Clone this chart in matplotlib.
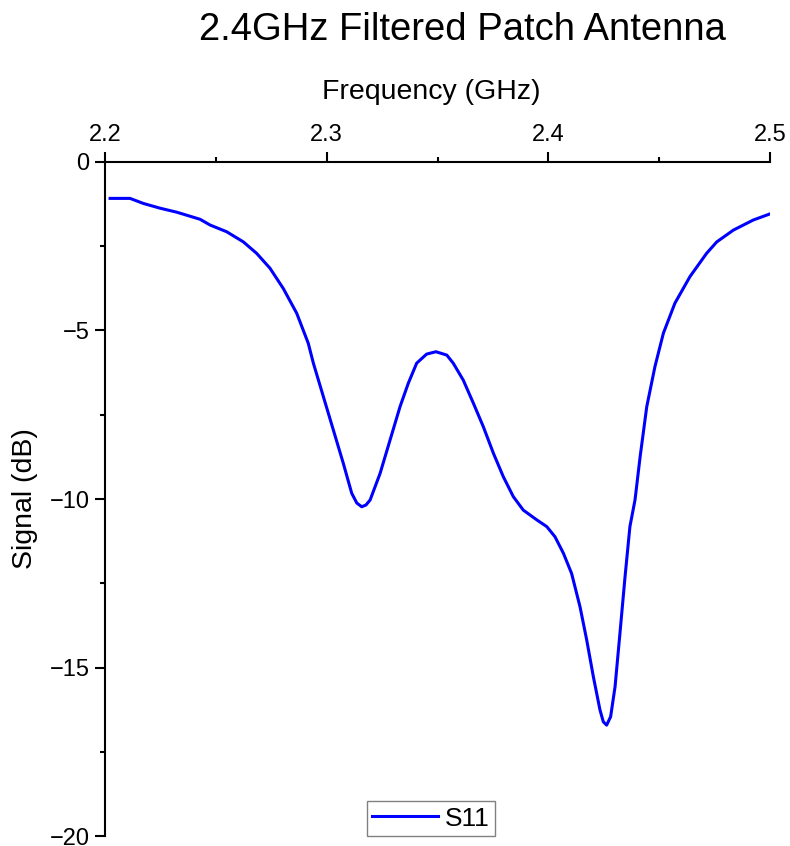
import matplotlib
matplotlib.use("Agg")
import matplotlib.pyplot as plt
from matplotlib.ticker import MultipleLocator

plt.rcParams["font.family"] = ["Liberation Sans", "DejaVu Sans"]

# S11 (GHz, dB)
freq = [2.2023, 2.2113, 2.2173, 2.2248, 2.2324, 2.2429, 2.2474, 2.2549,
        2.2624, 2.2684, 2.2744, 2.2804, 2.2865, 2.2917, 2.2940, 2.2985,
        2.3030, 2.3075, 2.3113, 2.3136, 2.3158, 2.3177, 2.3196, 2.3241,
        2.3286, 2.3331, 2.3368, 2.3406, 2.3451, 2.3493, 2.3542, 2.3571,
        2.3616, 2.3662, 2.3707, 2.3752, 2.3797, 2.3842, 2.3887, 2.3948,
        2.3993, 2.4030, 2.4068, 2.4105, 2.4143, 2.4173, 2.4203, 2.4233,
        2.4248, 2.4263, 2.4281, 2.4301, 2.4323, 2.4346, 2.4368, 2.4391,
        2.4414, 2.4444, 2.4481, 2.4519, 2.4571, 2.4639, 2.4714, 2.4760,
        2.4835, 2.4925, 2.5000]
s11 = [-1.08, -1.08, -1.23, -1.37, -1.49, -1.70, -1.87, -2.07,
       -2.37, -2.71, -3.15, -3.75, -4.49, -5.38, -5.97, -6.96,
       -7.95, -8.94, -9.83, -10.12, -10.23, -10.18, -10.03, -9.24,
       -8.25, -7.26, -6.57, -5.97, -5.70, -5.63, -5.73, -5.97,
       -6.47, -7.16, -7.86, -8.64, -9.34, -9.93, -10.33, -10.62,
       -10.82, -11.12, -11.61, -12.21, -13.20, -14.18, -15.27, -16.26,
       -16.61, -16.71, -16.46, -15.57, -13.99, -12.31, -10.82, -10.03,
       -8.75, -7.26, -6.07, -5.08, -4.19, -3.40, -2.71, -2.37,
       -2.02, -1.72, -1.54]

x_ticks = [2.2, 2.3, 2.4, 2.5]
y_ticks = [0, -5, -10, -15, -20]

fig = plt.figure(figsize=(7.9, 8.46), dpi=100, facecolor="white")
ax = fig.add_axes([105 / 790, 1 - 836 / 846, 665 / 790, 674 / 846])

ax.plot(freq, s11, color="#0000FF", linewidth=2.2, label="S11")

ax.set_xlim(2.2, 2.5)
ax.set_ylim(-20, 0)
ax.xaxis.tick_top()
ax.xaxis.set_label_position("top")
ax.set_xticks(x_ticks)
ax.set_yticks(y_ticks)
ax.set_xticklabels([f"{t:.1f}" for t in x_ticks])
ax.set_yticklabels([f"{t}".replace("-", "\u2212") for t in y_ticks])
ax.xaxis.set_minor_locator(MultipleLocator(0.05))
ax.yaxis.set_minor_locator(MultipleLocator(2.5))

for side in ("right", "bottom"):
    ax.spines[side].set_visible(False)
for side in ("top", "left"):
    ax.spines[side].set_linewidth(1.5)

ax.tick_params(which="major", direction="out", length=7.2, width=1.5,
               labelsize=17, pad=4)
ax.tick_params(which="minor", direction="out", length=3.6, width=1.5)
ax.tick_params(axis="x", which="both", top=True, bottom=False)

ax.set_xlabel("Frequency (GHz)", fontsize=20.5, labelpad=18)
ax.xaxis.label.set_x(0.49)
ax.set_ylabel("Signal (dB)", fontsize=20.5, labelpad=8)

leg = ax.legend(loc="lower center", bbox_to_anchor=(0.49, 0.0),
                fontsize=19, fancybox=False, framealpha=1,
                edgecolor="#808080", borderaxespad=0, handlelength=2.5,
                handletextpad=0.25, borderpad=0.2)
leg.get_frame().set_linewidth(1.0)

fig.text(462 / 790, 1 - 30 / 846, "2.4GHz Filtered Patch Antenna",
         ha="center", va="center", fontsize=27.5)

fig.savefig("out.png", dpi=100, facecolor="white")
